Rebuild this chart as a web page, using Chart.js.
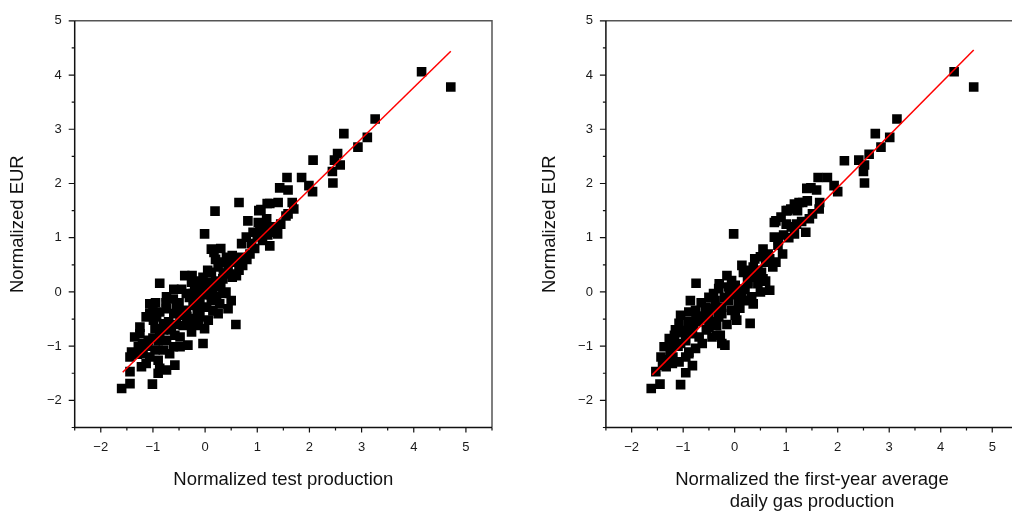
<!DOCTYPE html>
<html>
<head>
<meta charset="utf-8">
<script src="https://cdn.jsdelivr.net/npm/chart.js@4/dist/chart.umd.min.js"></script>
<style>
  html, body { margin: 0; padding: 0; background: #fff; overflow: hidden; width: 1012px; height: 511px; }
  .panel { position: absolute; top: 0; }
</style>
</head>
<body>
<div class="panel" id="p1" style="left:0px;width:520px;height:520px;"><canvas id="c1"></canvas></div>
<div class="panel" id="p2" style="left:530px;width:500px;height:520px;"><canvas id="c2"></canvas></div>
<script>
// ---------- data ----------
const testProdX = [4.15,4.71,3.26,2.66,3.11,2.93,2.54,2.48,2.59,2.07,2.44,2.45,1.85,1.57,1.59,1.43,1.99,2.06,1.40,1.67,1.70,1.24,1.59,1.19,1.03,1.07,1.18,0.82,0.19,0.65,
  1.02,1.14,0.92,1.05,1.19,1.37,0.79,0.70,0.89,0.86,0.70,0.72,0.65,0.52,-0.01,0.12,0.17,0.41,0.34,0.52,0.25,0.44,0.48,0.34,0.12,-0.04,0.06,-0.39,-0.26,-0.17,
  -0.87,-0.74,-0.61,-0.55,-0.36,-0.23,-0.10,0.03,0.15,0.22,0.34,0.50,0.44,0.59,0.28,0.12,0.03,-0.10,-0.23,-0.36,-0.48,-0.23,-0.10,0.06,-0.01,-0.04,-0.33,-0.26,-0.48,-0.61,
  -0.74,-0.87,-0.99,-1.06,-0.87,-0.74,-0.96,-1.09,-1.25,-1.35,-1.28,-1.41,-1.44,-1.19,-1.06,-1.13,-1.22,-1.44,-0.90,-0.87,-0.74,-0.58,-0.90,-1.44,-1.60,-1.01,-1.25,-1.13,-0.93,-0.80,
  -0.68,-0.58,-0.80,-0.96,-0.68,-0.48,-0.42,-0.26,-0.13,-1.06,-0.50,-0.45,-0.30,-0.20,-0.15,0.00,0.10,0.20,0.30,0.35,0.45,0.60,0.60,0.40,-0.05,-0.70,-0.60,-0.80,-0.90,-1.00,
  -1.10,-1.20,-1.30,-0.95,-1.00,-0.65,-0.55,-0.35,-0.15,0.15,0.25,0.05,0.20,0.30,-0.25,-0.45,-0.60,-0.75,-0.10,0.10,1.00,1.39,1.24,1.10,1.30,1.45,0.95,0.80,1.55,1.20];
const testProdEUR = [4.06,3.78,3.19,2.92,2.85,2.67,2.55,2.43,2.34,2.43,2.22,2.01,2.11,2.11,1.88,1.92,1.96,1.85,1.65,1.65,1.53,1.63,1.44,1.63,1.50,1.52,1.35,1.31,1.49,1.65,
  1.28,1.25,1.10,1.13,1.19,1.10,1.01,0.89,0.89,0.70,0.64,0.49,0.40,0.27,1.07,0.79,0.73,0.64,0.55,0.67,0.46,0.46,0.33,0.24,0.36,0.27,0.18,0.30,0.18,0.09,
  0.16,-0.09,-0.13,-0.28,-0.03,-0.03,0.03,0.00,0.03,-0.09,-0.03,-0.16,-0.31,-0.60,-0.22,-0.16,-0.28,-0.22,-0.25,-0.34,-0.43,-0.49,-0.46,-0.52,-0.68,-0.95,-0.98,-0.74,-0.83,-1.01,
  -0.89,-0.77,-0.52,-0.40,-0.37,-0.31,-0.68,-0.89,-0.77,-0.83,-1.01,-1.11,-1.20,-1.14,-1.20,-1.32,-1.38,-1.47,-1.26,-1.41,-1.44,-1.35,-1.50,-1.69,-1.78,-1.70,-0.65,-0.46,-0.46,-0.59,
  -0.65,-0.80,-1.07,-1.07,-1.14,-1.01,-0.62,-0.59,-0.62,-0.22,-0.20,-0.35,-0.10,0.05,-0.10,0.10,0.15,0.20,0.10,0.35,0.55,0.55,0.30,0.00,-0.05,-0.55,-0.40,-0.70,-0.90,-0.85,
  -1.00,-0.95,-1.15,-0.20,-0.35,-0.70,-0.60,-0.45,-0.35,-0.35,-0.40,0.40,0.60,0.80,0.30,0.05,0.05,-0.20,0.20,-0.05,1.02,1.07,0.85,0.95,1.20,1.25,0.80,0.60,1.40,1.05];

const gasProdX = [4.26,4.64,3.15,2.73,3.01,2.84,2.61,2.41,2.52,2.13,2.50,2.52,1.80,1.62,1.48,1.59,1.93,2.00,1.32,1.65,1.64,1.51,1.22,1.40,1.09,1.25,1.41,1.00,0.90,0.80,
  -0.02,-0.75,-1.62,-1.45,-1.05,-1.53,-1.33,-1.21,-1.08,-0.95,-0.82,-0.95,-0.89,-1.37,-1.27,-1.17,-1.20,-1.43,-1.08,-1.05,-0.89,-0.86,-0.76,-0.98,-0.82,-0.69,-0.63,-0.76,-0.89,-0.57,
  -0.57,-0.50,-0.44,-0.28,-0.19,-0.25,-0.35,-0.31,-0.38,-0.41,-0.31,-0.25,-0.12,-0.06,0.01,0.04,-0.15,-0.06,-0.12,0.01,0.10,0.14,0.20,0.07,0.30,0.33,0.36,0.26,0.20,0.36,
  0.39,0.52,0.55,0.45,0.55,0.68,0.74,0.68,0.39,0.77,0.93,0.84,0.77,1.00,1.03,1.16,1.16,1.38,0.14,0.17,-0.70,-0.60,-0.80,-0.95,-1.10,-1.25,-1.30,-1.40,-0.50,-0.40,
  -0.20,-0.10,0.00,0.05,0.25,0.30,0.45,0.60,0.65,0.85,0.95,1.05,1.10,1.20,1.30,1.45,-0.65,-0.90,-1.00,-1.15,-0.55,-0.35,-0.15,0.10,0.20,-0.30,-0.50,-0.75,-1.20,-1.05,
  0.50,0.60,-0.45,-0.25,0.80,0.50];
const gasProdEUR = [4.06,3.78,3.19,2.92,2.85,2.67,2.54,2.43,2.34,2.42,2.22,2.01,2.11,2.11,1.92,1.88,1.96,1.85,1.65,1.65,1.53,1.44,1.50,1.91,1.53,1.65,1.68,1.50,1.38,1.31,
  1.07,0.16,-1.78,-1.70,-1.71,-1.47,-1.38,-1.32,-1.29,-1.49,-1.36,-1.20,-1.14,-1.01,-0.86,-0.80,-0.95,-1.20,-0.58,-0.43,-0.37,-0.16,-0.34,-0.71,-0.77,-0.83,-0.95,-1.04,-1.11,-0.28,
  -0.49,-0.65,-0.83,-0.80,-0.98,-0.95,-0.62,-0.46,-0.16,-0.03,0.06,-0.28,-0.16,-0.34,-0.43,-0.52,0.30,0.21,0.09,0.12,0.03,-0.09,-0.16,-0.19,-0.58,-0.09,-0.22,0.15,0.40,0.46,
  0.27,0.36,0.24,0.15,0.79,0.61,0.46,0.03,0.61,1.01,0.70,0.86,1.28,1.25,1.50,1.62,1.07,1.10,0.49,0.36,-0.55,-0.45,-0.60,-0.90,-1.00,-1.10,-1.25,-1.35,-0.40,-0.30,
  -0.10,0.00,-0.05,0.05,0.20,0.30,0.40,0.55,0.70,0.95,1.05,1.00,1.20,1.25,1.30,1.35,-0.20,-0.55,-0.75,-0.70,-0.70,-0.80,-0.60,-0.30,0.05,0.15,-0.10,-0.45,-1.20,-0.95,
  0.00,0.20,-0.55,-0.40,0.55,0.65];

// fitted lines (end points)
const fitTestX = [-1.58, 4.71];
const fitTestY = [-1.48, 4.44];
const fitGasX = [-1.60, 4.64];
const fitGasY = [-1.53, 4.46];

// axis settings
const xRange = [-2.5, 5.5];
const yRange = [-2.5, 5];
const tickStep = 0.5;
const yTitle = 'Normalized EUR';
const xTitle1 = 'Normalized test production';
const xTitle2 = ['Normalized the first-year average', 'daily gas production'];

// ---------- drawing ----------
const FONT = '"Liberation Sans", Arial, sans-serif';
const fmt = v => Number.isInteger(v) ? String(v).replace('-', '\u2212') : '';

const framePlugin = {
  id: 'frame',
  afterDraw(chart) {
    const { ctx, chartArea: { left, right, top, bottom } } = chart;
    const xs = chart.scales.x, ys = chart.scales.y;
    ctx.save();
    ctx.lineWidth = 1.5;
    ctx.strokeStyle = '#555';
    ctx.beginPath();
    ctx.moveTo(left, top); ctx.lineTo(right, top); ctx.lineTo(right, bottom);
    ctx.stroke();
    ctx.strokeStyle = '#111';
    ctx.beginPath();
    ctx.moveTo(left, top); ctx.lineTo(left, bottom); ctx.lineTo(right, bottom);
    ctx.stroke();
    ctx.lineWidth = 1.2;
    ctx.beginPath();
    xs.ticks.forEach(t => {
      const p = xs.getPixelForValue(t.value);
      const len = Number.isInteger(t.value) ? 5 : 3;
      ctx.moveTo(p, bottom); ctx.lineTo(p, bottom + len);
    });
    ys.ticks.forEach(t => {
      const p = ys.getPixelForValue(t.value);
      const len = Number.isInteger(t.value) ? 6 : 3;
      ctx.moveTo(left, p); ctx.lineTo(left - len, p);
    });
    ctx.stroke();
    ctx.restore();
  }
};

function makeChart(id, xs, ys, fx, fy, xTitle, geo) {
  const pts = xs.map((x, i) => ({ x, y: ys[i] }));
  const line = fx.map((x, i) => ({ x, y: fy[i] }));
  return new Chart(document.getElementById(id), {
    type: 'scatter',
    data: {
      datasets: [
        { type: 'line', data: line, borderColor: '#ff0000', borderWidth: 1.5, pointRadius: 0, fill: false, order: 0 },
        { data: pts, pointStyle: 'rect', pointRadius: 6.8, pointHoverRadius: 6.8,
          backgroundColor: '#000', borderColor: '#000', borderWidth: 0, order: 1 }
      ]
    },
    options: {
      responsive: true,
      maintainAspectRatio: false,
      animation: false,
      events: [],
      layout: { padding: { left: 0, top: geo.top, right: geo.right, bottom: 0 } },
      plugins: { legend: { display: false }, tooltip: { enabled: false } },
      scales: {
        x: {
          type: 'linear', min: xRange[0], max: xRange[1],
          grid: { display: false, drawTicks: false },
          border: { display: false },
          afterFit: s => { s.height = geo.xh; },
          ticks: { stepSize: tickStep, autoSkip: false, maxRotation: 0, padding: 12,
                   callback: fmt, color: '#1a1a1a', font: { family: FONT, size: 13 } },
          title: { display: true, text: xTitle, color: '#111',
                   font: { family: FONT, size: 18.5 }, padding: { top: 0, bottom: geo.xtp } }
        },
        y: {
          type: 'linear', min: yRange[0], max: yRange[1],
          grid: { display: false, drawTicks: false },
          border: { display: false },
          afterFit: s => { s.width = geo.yw; },
          ticks: { stepSize: tickStep, autoSkip: false, padding: 13,
                   callback: fmt, color: '#1a1a1a', font: { family: FONT, size: 13 } },
          title: { display: true, text: yTitle, color: '#111',
                   font: { family: FONT, size: 18.5 }, padding: { top: geo.ytp, bottom: 0 } }
        }
      }
    },
    plugins: [framePlugin]
  });
}

makeChart('c1', testProdX, testProdEUR, fitTestX, fitTestY, xTitle1,
  { top: 19.5, right: 28, xh: 92.5, yw: 74.7, xtp: 29, ytp: 7 });
makeChart('c2', gasProdX, gasProdEUR, fitGasX, fitGasY, xTitle2,
  { top: 19.5, right: 6.5, xh: 92.5, yw: 75.9, xtp: 7, ytp: 8.5 });
</script>
</body>
</html>
